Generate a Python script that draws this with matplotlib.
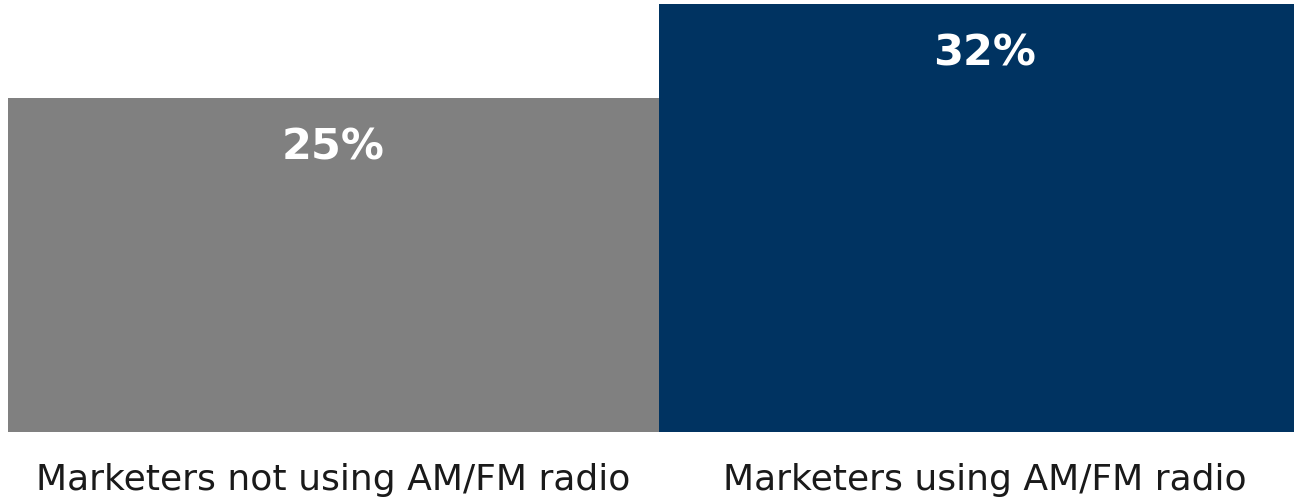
import matplotlib.pyplot as plt

categories = ["Marketers not using AM/FM radio", "Marketers using AM/FM radio"]
values = [25, 32]
colors = ["#808080", "#003361"]

fig = plt.figure(figsize=(12.97, 5), dpi=100)
ax = fig.add_axes([8/1297, 1 - 432/500, (1294 - 8)/1297, 428/500])

x = range(len(values))
ax.bar(x, values, width=1.0, color=colors)
# right bar is a bit narrower in the original, so it gets clipped by the axes edge
ax.set_xlim(-0.5, 1.4754)
ax.set_ylim(0, 32)

for xi, v in zip(x, values):
    ax.annotate(f"{v}%", (xi, v), xytext=(0, -36), textcoords="offset points",
                ha="center", va="center", color="white", fontsize=31,
                fontweight="bold", family="DejaVu Sans")

ax.set_xticks(list(x))
ax.set_xticklabels(categories, fontsize=26, color="#1a1a1a")
ax.tick_params(axis="x", length=0, pad=22)
ax.set_yticks([])
for s in ax.spines.values():
    s.set_visible(False)

fig.savefig("out.png", dpi=100)
